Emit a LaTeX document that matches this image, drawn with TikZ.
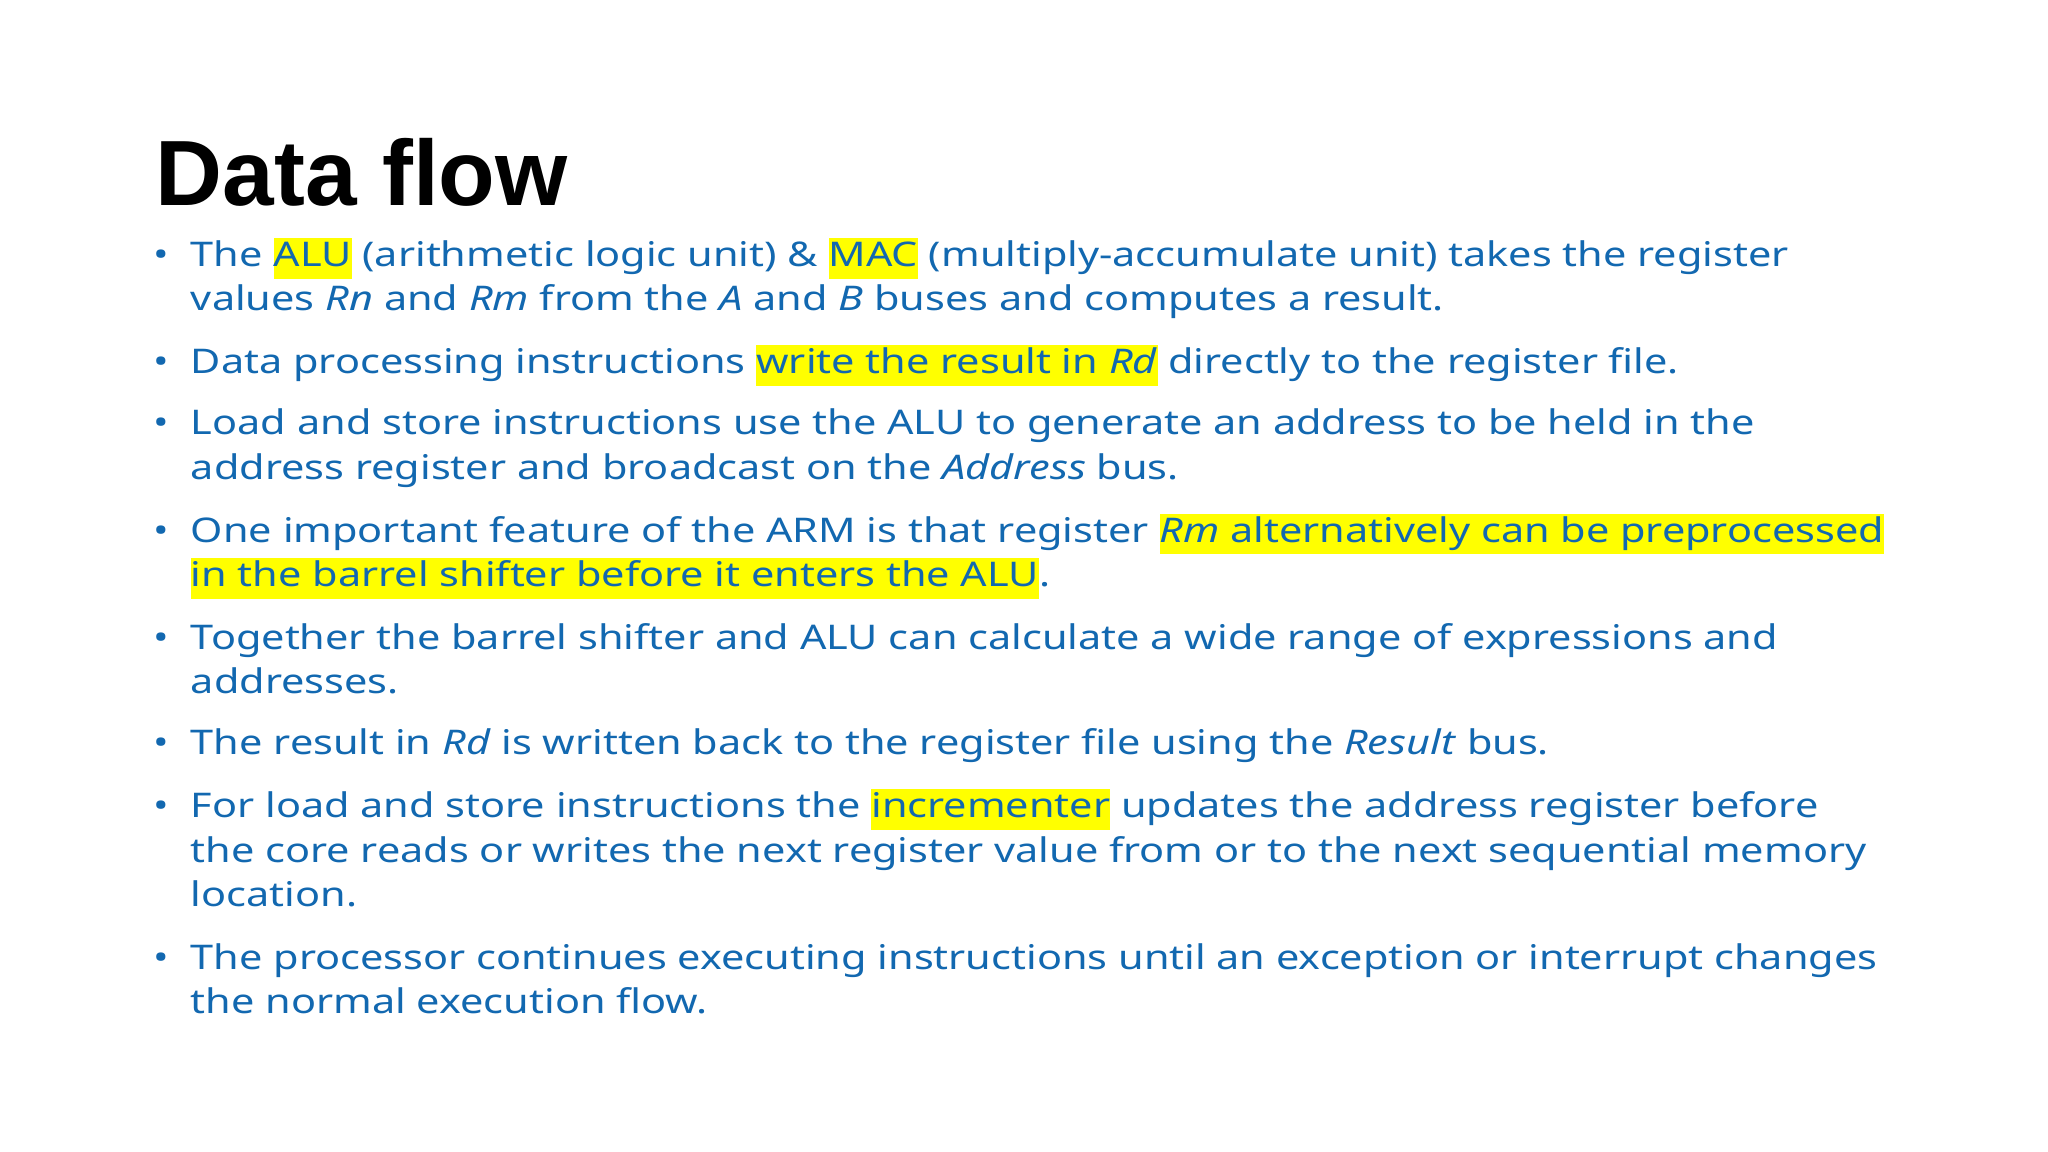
\documentclass[tikz,border=0pt]{standalone}
\usepackage{fontspec}
\setmainfont{Noto Sans}[FakeStretch=1.22]
\newfontfamily\titlefont{Liberation Sans}
\definecolor{txtblue}{RGB}{18,104,176}
\definecolor{hly}{RGB}{255,255,0}
\newcommand\hlt[1]{{\setlength{\fboxsep}{0pt}\colorbox{hly}{\strut #1}}}
\begin{document}
\begin{tikzpicture}[x=1pt,y=1pt,
  txt/.style={anchor=base west,inner sep=0pt,text=txtblue,font=\fontsize{26}{31}\selectfont},
  bul/.style={anchor=base west,inner sep=0pt,text=txtblue,font=\fontsize{26}{31}\selectfont}]
\useasboundingbox[fill=white] (0,0) rectangle (1568,-882);
\node[anchor=base west,inner sep=0pt,font=\titlefont\bfseries\fontsize{71}{80}\selectfont] (title) at (119,-157) {Data flow};
\foreach \y [count=\i] in {204,286,333,415,497,578,626,742}
  \node[bul] (b\i) at (117,-\y) {•};
\node[txt] (l1) at (146,-204) {The \hlt{ALU} (arithmetic logic unit) \& \hlt{MAC} (multiply-accumulate unit) takes the register};
\node[txt] (l2) at (146,-238) {values \textit{Rn} and \textit{Rm} from the \textit{A} and \textit{B} buses and computes a result.};
\node[txt] (l3) at (146,-286) {Data processing instructions \hlt{write the result in \textit{Rd}} directly to the register file.};
\node[txt] (l4) at (146,-333) {Load and store instructions use the ALU to generate an address to be held in the};
\node[txt] (l5) at (146,-367) {address register and broadcast on the \textit{Address} bus.};
\node[txt] (l6) at (146,-415) {One important feature of the ARM is that register \hlt{\textit{Rm} alternatively can be preprocessed}};
\node[txt] (l7) at (146,-449) {\hlt{in the barrel shifter before it enters the ALU}.};
\node[txt] (l8) at (146,-497) {Together the barrel shifter and ALU can calculate a wide range of expressions and};
\node[txt] (l9) at (146,-531) {addresses.};
\node[txt] (l10) at (146,-578) {The result in \textit{Rd} is written back to the register file using the \textit{Result} bus.};
\node[txt] (l11) at (146,-626) {For load and store instructions the \hlt{incrementer} updates the address register before};
\node[txt] (l12) at (146,-660) {the core reads or writes the next register value from or to the next sequential memory};
\node[txt] (l13) at (146,-694) {location.};
\node[txt] (l14) at (146,-742) {The processor continues executing instructions until an exception or interrupt changes};
\node[txt] (l15) at (146,-776) {the normal execution flow.};
\end{tikzpicture}
\end{document}
